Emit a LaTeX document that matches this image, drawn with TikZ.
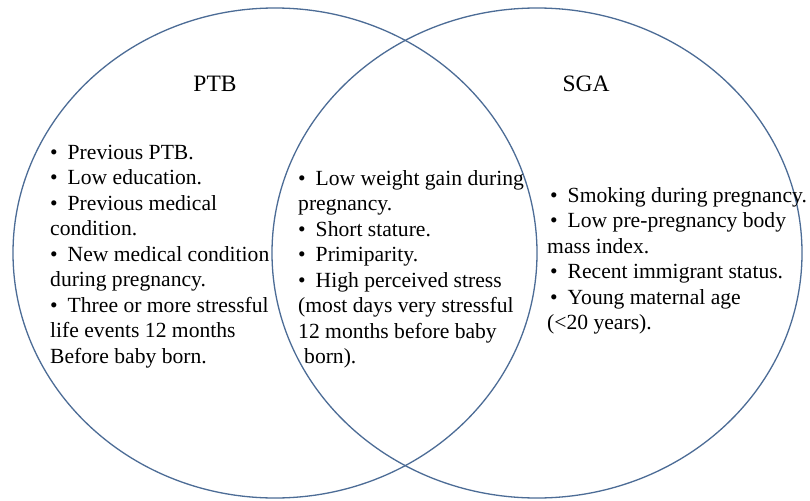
\documentclass[tikz,border=0pt]{standalone}
\usepackage{fontspec}
\setmainfont{Liberation Serif}
\definecolor{ringcol}{RGB}{76,108,150}
\newcommand\bu{\textbullet\hspace{10pt}}
\begin{document}
\begin{tikzpicture}[x=1pt,y=-1pt,
  ring/.style={draw=ringcol,line width=1.3pt},
  title/.style={font=\fontsize{23.5}{25.5}\selectfont,inner sep=0pt,anchor=base},
  list/.style={font=\fontsize{21.6}{25.5}\selectfont,inner sep=0pt,align=left,anchor=base west}]
\useasboundingbox (0,0) rectangle (810,500);
\fill[white] (0,0) rectangle (810,500);
\draw[ring] (275,253) ellipse [x radius=262, y radius=245];
\draw[ring] (537,253) ellipse [x radius=265, y radius=245];
\node[title] (ptb) at (215,92) {PTB};
\node[title] (sga) at (586,92) {SGA};
\node[list] (left) at (50,363) {\bu Previous PTB.\\ \bu Low education.\\ \bu Previous medical\\ condition.\\ \bu New medical condition\\ during pregnancy.\\ \bu Three or more stressful\\ life events 12 months\\ Before baby born.};
\node[list] (mid) at (298,363.5) {\bu Low weight gain during\\ pregnancy.\\ \bu Short stature.\\ \bu Primiparity.\\ \bu High perceived stress\\ (most days very stressful\\ 12 months before baby\\ \hspace{6pt}born).};
\node[list] (right) at (547,329.5) {\hspace{3pt}\bu Smoking during pregnancy.\\ \hspace{3pt}\bu Low pre-pregnancy body\\ mass index.\\ \hspace{3pt}\bu Recent immigrant status.\\ \hspace{3pt}\bu Young maternal age\\ (<20 years).};
\end{tikzpicture}
\end{document}
